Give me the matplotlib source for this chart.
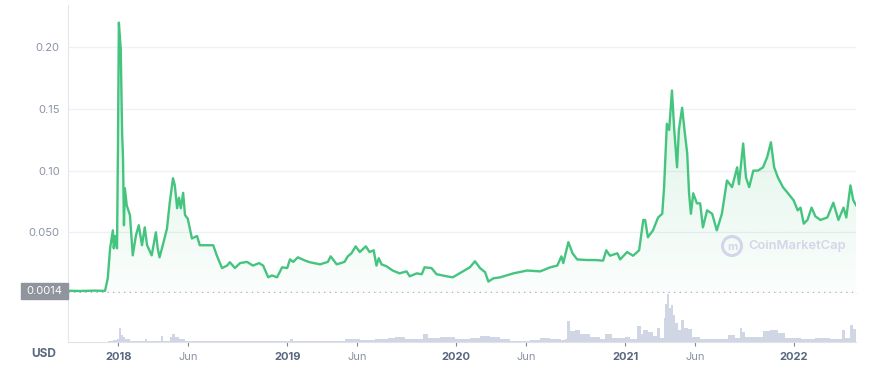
import matplotlib
matplotlib.use("Agg")
import matplotlib.pyplot as plt
import matplotlib.dates as mdates
import numpy as np
import pandas as pd
from matplotlib.patches import Ellipse, Rectangle

plt.rcParams['font.family'] = ['Inter', 'DejaVu Sans']

# price in USD
price_dates = [
    '2017-09-14', '2017-10-10', '2017-11-11', '2017-12-03', '2017-12-09', '2017-12-14',
    '2017-12-20', '2017-12-22', '2017-12-25', '2017-12-29', '2017-12-31', '2018-01-02',
    '2018-01-06', '2018-01-09', '2018-01-11', '2018-01-13', '2018-01-15', '2018-01-19',
    '2018-01-26', '2018-02-01', '2018-02-08', '2018-02-14', '2018-02-21', '2018-02-27',
    '2018-03-04', '2018-03-14', '2018-03-23', '2018-03-27', '2018-03-31', '2018-04-07',
    '2018-04-16', '2018-04-22', '2018-04-29', '2018-05-03', '2018-05-08', '2018-05-12',
    '2018-05-16', '2018-05-21', '2018-05-25', '2018-05-31', '2018-06-09', '2018-06-20',
    '2018-06-26', '2018-07-12', '2018-07-25', '2018-08-02', '2018-08-13', '2018-08-24',
    '2018-08-30', '2018-09-10', '2018-09-21', '2018-10-06', '2018-10-19', '2018-11-01',
    '2018-11-10', '2018-11-21', '2018-11-29', '2018-12-10', '2018-12-21', '2019-01-01',
    '2019-01-07', '2019-01-14', '2019-01-24', '2019-02-09', '2019-02-19', '2019-03-13',
    '2019-03-30', '2019-04-05', '2019-04-18', '2019-05-05', '2019-05-12', '2019-05-20',
    '2019-05-29', '2019-06-07', '2019-06-20', '2019-06-28', '2019-07-07', '2019-07-13',
    '2019-07-18', '2019-07-24', '2019-08-04', '2019-08-17', '2019-09-01', '2019-09-16',
    '2019-09-23', '2019-10-08', '2019-10-19', '2019-10-25', '2019-11-09', '2019-11-20',
    '2019-12-12', '2019-12-25', '2020-01-16', '2020-01-31', '2020-02-11', '2020-02-22',
    '2020-03-04', '2020-03-11', '2020-03-22', '2020-04-06', '2020-05-04', '2020-06-03',
    '2020-07-01', '2020-07-23', '2020-08-07', '2020-08-16', '2020-08-20', '2020-08-31',
    '2020-09-09', '2020-09-19', '2020-10-11', '2020-10-28', '2020-11-14', '2020-11-21',
    '2020-11-29', '2020-12-15', '2020-12-21', '2021-01-05', '2021-01-18', '2021-01-31',
    '2021-02-09', '2021-02-13', '2021-02-19', '2021-03-02', '2021-03-13', '2021-03-22',
    '2021-03-26', '2021-04-01', '2021-04-06', '2021-04-12', '2021-04-17', '2021-04-23',
    '2021-04-27', '2021-05-04', '2021-05-10', '2021-05-15', '2021-05-19', '2021-05-23',
    '2021-05-28', '2021-06-05', '2021-06-12', '2021-06-18', '2021-06-27', '2021-07-08',
    '2021-07-18', '2021-07-29', '2021-08-09', '2021-08-20', '2021-08-31', '2021-09-04',
    '2021-09-13', '2021-09-19', '2021-09-26', '2021-10-05', '2021-10-15', '2021-10-26',
    '2021-11-04', '2021-11-12', '2021-11-19', '2021-11-27', '2021-12-08', '2021-12-19',
    '2021-12-31', '2022-01-09', '2022-01-15', '2022-01-22', '2022-01-30', '2022-02-08',
    '2022-02-16', '2022-02-27', '2022-03-14', '2022-03-27', '2022-04-07', '2022-04-18',
    '2022-04-24', '2022-05-03', '2022-05-09', '2022-05-15',
]
price_values = [
    0.0026, 0.0024, 0.0027, 0.0025, 0.0127, 0.037,
    0.0516, 0.037, 0.047, 0.037, 0.118, 0.220,
    0.199, 0.131, 0.110, 0.0557, 0.0857, 0.0719,
    0.0638, 0.0313, 0.0476, 0.0557, 0.0395, 0.054,
    0.0395, 0.0313, 0.050, 0.037, 0.0297, 0.0395,
    0.053, 0.074, 0.0938, 0.088, 0.0695, 0.078,
    0.0695, 0.082, 0.064, 0.061, 0.045, 0.047,
    0.0395, 0.0395, 0.0395, 0.031, 0.021, 0.023,
    0.0257, 0.021, 0.025, 0.026, 0.023, 0.025,
    0.023, 0.0135, 0.015, 0.0135, 0.0216, 0.021,
    0.028, 0.026, 0.0297, 0.027, 0.0257, 0.024,
    0.026, 0.0305, 0.024, 0.026, 0.0305, 0.033,
    0.0386, 0.034, 0.0386, 0.034, 0.0354, 0.023,
    0.029, 0.024, 0.0224, 0.019, 0.0167, 0.0183,
    0.0143, 0.0167, 0.016, 0.0216, 0.021, 0.016,
    0.0143, 0.0135, 0.0183, 0.0216, 0.0265, 0.021,
    0.0176, 0.010, 0.0127, 0.0135, 0.0167, 0.019,
    0.0183, 0.0216, 0.023, 0.0305, 0.025, 0.042,
    0.033, 0.028, 0.0275, 0.0275, 0.027, 0.0354,
    0.031, 0.033, 0.028, 0.034, 0.031, 0.0354,
    0.060, 0.060, 0.046, 0.0516, 0.062, 0.065,
    0.0866, 0.138, 0.133, 0.165, 0.133, 0.1027,
    0.133, 0.151, 0.130, 0.114, 0.0816, 0.065,
    0.0816, 0.0735, 0.0735, 0.054, 0.0678, 0.065,
    0.0516, 0.065, 0.092, 0.0866, 0.1027, 0.089,
    0.122, 0.0946, 0.0866, 0.100, 0.100, 0.1027,
    0.111, 0.123, 0.1027, 0.0946, 0.0866, 0.0816,
    0.076, 0.0678, 0.070, 0.057, 0.060, 0.070,
    0.063, 0.060, 0.062, 0.074, 0.060, 0.070,
    0.062, 0.088, 0.076, 0.072,
]

# trading volume, arbitrary units
volume_dates = [
    '2017-09-14', '2017-12-03', '2017-12-09', '2017-12-20', '2017-12-29', '2018-01-02',
    '2018-01-06', '2018-01-11', '2018-01-15', '2018-01-26', '2018-02-17', '2018-02-27',
    '2018-03-04', '2018-03-21', '2018-04-03', '2018-04-07', '2018-04-22', '2018-04-27',
    '2018-05-03', '2018-05-12', '2018-05-25', '2018-06-26', '2018-10-13', '2019-01-01',
    '2019-01-07', '2019-01-14', '2019-04-04', '2019-05-05', '2019-06-07', '2019-07-10',
    '2019-08-06', '2019-08-22', '2019-09-13', '2019-10-16', '2019-10-22', '2019-11-02',
    '2019-11-28', '2019-12-30', '2020-01-31', '2020-02-22', '2020-03-15', '2020-04-06',
    '2020-04-27', '2020-05-19', '2020-06-10', '2020-07-01', '2020-07-23', '2020-08-14',
    '2020-08-24', '2020-08-29', '2020-09-04', '2020-09-15', '2020-09-26', '2020-10-17',
    '2020-11-08', '2020-11-18', '2020-12-04', '2021-01-01', '2021-01-12', '2021-01-27',
    '2021-02-03', '2021-02-09', '2021-02-19', '2021-03-02', '2021-03-11', '2021-03-17',
    '2021-03-26', '2021-03-28', '2021-04-01', '2021-04-06', '2021-04-10', '2021-04-14',
    '2021-04-19', '2021-04-25', '2021-05-02', '2021-05-08', '2021-05-17', '2021-05-26',
    '2021-06-12', '2021-07-14', '2021-08-11', '2021-08-27', '2021-09-06', '2021-09-11',
    '2021-09-17', '2021-10-08', '2021-10-26', '2021-11-10', '2021-11-27', '2021-12-12',
    '2022-01-15', '2022-02-16', '2022-03-20', '2022-04-15', '2022-04-22', '2022-05-01',
    '2022-05-08', '2022-05-15',
]
volume_values = [
    0, 0, 1, 2, 3, 15,
    7, 5, 3, 1.5, 1, 3,
    1, 1, 6, 1.5, 5, 8,
    5, 3, 1.5, 1, 0.8, 1,
    3, 1.5, 1.5, 3, 2.5, 3,
    4.5, 5, 3.5, 3, 8, 4,
    5, 3, 4, 6, 5, 3,
    1.5, 1.5, 2.5, 4, 3, 2,
    3, 22, 11, 12, 8, 5,
    3, 8, 4, 5, 3, 17,
    8, 12, 10, 6, 15, 4,
    25, 40, 50, 35, 38, 28,
    20, 12, 23, 15, 14, 5,
    3, 3, 7, 4, 15, 10,
    5, 5, 11, 12, 9, 4,
    3, 4, 3, 12, 4, 18,
    14, 6,
]

tick_dates = ['2018-01-01', '2018-06-01', '2019-01-01', '2019-06-01', '2020-01-01',
              '2020-06-01', '2021-01-01', '2021-06-01', '2022-01-01']
tick_labels = ['2018', 'Jun', '2019', 'Jun', '2020', 'Jun', '2021', 'Jun', '2022']
price_ticks = [0.05, 0.10, 0.15, 0.20]
price_tick_labels = ['0.050', '0.10', '0.15', '0.20']
ref_price = 0.0014

W, H = 869, 365
fig = plt.figure(figsize=(W / 100, H / 100), dpi=100)


def box(x0, y0, x1, y1):
    return [x0 / W, 1 - y1 / H, (x1 - x0) / W, (y1 - y0) / H]


ax = fig.add_axes(box(68, 5, 856, 293))
axv = fig.add_axes(box(68, 293, 856, 342), sharex=ax)

pdates = pd.to_datetime(price_dates)
vdates = pd.to_datetime(volume_dates)
green = '#45c47f'
ymin, ymax = 0.00077, 0.2343

# --- price line + gradient fill ---
fill = ax.fill_between(pdates, price_values, ymin, color='none', lw=0)
rgba = np.zeros((256, 1, 4))
rgba[:, 0, :3] = matplotlib.colors.to_rgb(green)
rgba[:, 0, 3] = np.linspace(0.25, 0.02, 256)
xn = mdates.date2num(pdates)
img = ax.imshow(rgba, aspect='auto', origin='upper',
                extent=[xn[0], xn[-1], ymin, max(price_values)], zorder=1)
img.set_clip_path(fill.get_paths()[0], transform=ax.transData)
ax.plot(pdates, price_values, color=green, lw=1.7, zorder=3, solid_joinstyle='round')

ax.axhline(ref_price, color='#a9b1c2', lw=1, ls=(0, (1, 3)), zorder=2)

ax.set_ylim(ymin, ymax)
ax.set_xlim(pd.Timestamp(price_dates[0]), pd.Timestamp(price_dates[-1]))
ax.set_yticks(price_ticks)
ax.set_yticklabels(price_tick_labels)
ax.tick_params(axis='y', length=0, pad=6, labelsize=8, labelcolor='#8a93a6')
ax.tick_params(axis='x', which='both', bottom=False, labelbottom=False)
ax.grid(axis='y', color='#eff1f5', lw=1)
ax.set_axisbelow(True)
for s in ['top', 'right']:
    ax.spines[s].set_visible(False)
ax.spines['left'].set_color('#e3e6ec')
ax.spines['bottom'].set_color('#eceef2')

# --- volume ---
axv.fill_between(vdates, volume_values, 0, step='post', color='#d0d6e4', lw=0)
axv.set_ylim(0, 51)
axv.set_yticks([])
for s in ['top', 'right']:
    axv.spines[s].set_visible(False)
axv.spines['left'].set_color('#e3e6ec')
axv.spines['bottom'].set_color('#dfe2e8')
axv.set_xticks(pd.to_datetime(tick_dates))
axv.set_xticklabels(tick_labels)
axv.tick_params(axis='x', length=3, color='#7d8596', pad=4, labelsize=8)
for lab in axv.get_xticklabels():
    if lab.get_text().isdigit():
        lab.set_fontweight('bold')
        lab.set_color('#58667e')
    else:
        lab.set_color('#8a93a6')

# --- labels outside the axes ---
fig.text(44 / W, 1 - 354 / H, 'USD', ha='center', va='center', fontsize=8.5,
         fontweight='bold', color='#58667e')
fig.patches.append(Rectangle((21 / W, 1 - 299 / H), 47 / W, 16 / H,
                             transform=fig.transFigure, color='#8f949d', zorder=5))
fig.text(44 / W, 1 - 291 / H, '0.0014', ha='center', va='center', fontsize=8,
         color='white', zorder=6)

# watermark
fig.patches.append(Ellipse((732 / W, 1 - 246 / H), 19 / W, 19 / H, transform=fig.transFigure,
                           fill=False, ec='#d3d6e8', lw=2.2, zorder=5))
fig.text(732 / W, 1 - 246.5 / H, 'm', ha='center', va='center', fontsize=8,
         fontweight='bold', color='#d3d6e8', zorder=5)
fig.text(748 / W, 1 - 246 / H, 'CoinMarketCap', ha='left', va='center', fontsize=9.3,
         fontweight='semibold', color='#d3d6e8', zorder=5)

plt.savefig('out.png', dpi=100)
